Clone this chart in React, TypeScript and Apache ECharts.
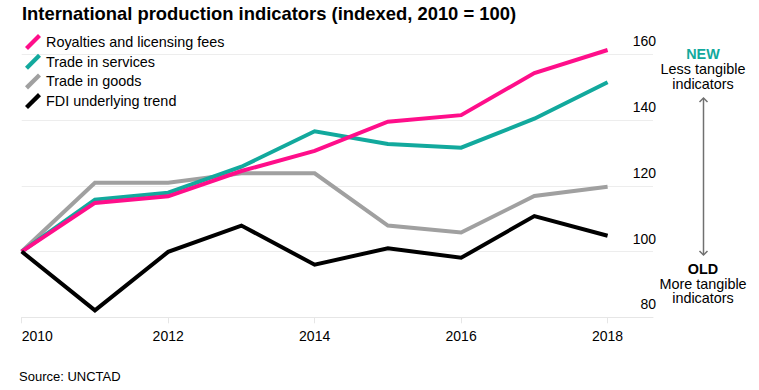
import React, { useEffect, useRef } from "react";
import * as echarts from "echarts";

const years = [2010, 2011, 2012, 2013, 2014, 2015, 2016, 2017, 2018];
const royalties = [100, 114.8, 116.8, 124.5, 130.6, 139.5, 141.5, 154.3, 161.3];
const services = [100, 115.8, 117.9, 125.8, 136.6, 132.7, 131.6, 140.4, 151.5];
const goods = [100, 120.9, 120.9, 123.8, 123.8, 107.9, 105.8, 116.9, 119.7];
const fdi = [100, 82.1, 99.9, 107.9, 96.0, 101.0, 98.1, 110.8, 104.8];
const xTickLabels = [2010, 2012, 2014, 2016, 2018];
const yTicks = { min: 80, max: 160, interval: 20 };

const FONT = "'Liberation Sans', Arial, Helvetica, sans-serif";
const ICON = "path://M0.6,12.6 L12.6,0.6 L15.4,3.4 L3.4,15.4 Z";

const seriesDefs = [
  { name: "Royalties and licensing fees", data: royalties, color: "#FF0E8A", z: 4 },
  { name: "Trade in services", data: services, color: "#12A99D", z: 3 },
  { name: "Trade in goods", data: goods, color: "#A0A0A0", z: 2 },
  { name: "FDI underlying trend", data: fdi, color: "#000000", z: 5 },
];

export default function App() {
  const ref = useRef<HTMLDivElement>(null);
  useEffect(() => {
    if (!ref.current) return;
    const chart = echarts.init(ref.current, null, { renderer: "svg" });
    const textBase = { fontFamily: FONT, fill: "#000", fontSize: 14.4 };
    chart.setOption({
      animation: false,
      backgroundColor: "#fff",
      grid: {
        left: 21.7,
        right: 106,
        top: 54.3,
        bottom: 72.7,
        containLabel: false,
        outerBoundsMode: "none",
      },
      legend: {
        orient: "vertical",
        left: 25,
        top: 34,
        padding: 0,
        itemWidth: 16,
        itemHeight: 16,
        itemGap: 3.7,
        icon: ICON,
        textStyle: { fontFamily: FONT, fontSize: 14.4, color: "#000" },
        selectedMode: false,
        data: seriesDefs.map((s) => s.name),
      },
      xAxis: {
        type: "value",
        min: 2010,
        max: 2018.62,
        interval: 2,
        splitLine: { show: false },
        axisLine: { show: true, lineStyle: { color: "#e6e6e6", width: 1 } },
        axisTick: { show: true, length: 6, lineStyle: { color: "#e6e6e6" }, customValues: xTickLabels },
        axisLabel: {
          customValues: xTickLabels,
          color: "#000",
          fontFamily: FONT,
          fontSize: 14,
          margin: 12,
          alignMinLabel: "left",
          formatter: (v: number) => String(v),
        },
      },
      yAxis: {
        type: "value",
        position: "right",
        min: yTicks.min,
        max: yTicks.max,
        interval: yTicks.interval,
        axisLine: { show: false },
        axisTick: { show: false },
        splitLine: { show: true, lineStyle: { color: "#ededed", width: 1 } },
        axisLabel: {
          inside: false,
          margin: 3,
          align: "right",
          verticalAlign: "bottom",
          padding: [0, 0, 6, 0],
          color: "#000",
          fontFamily: FONT,
          fontSize: 14,
        },
      },
      series: seriesDefs.map((s) => ({
        name: s.name,
        type: "line",
        data: years.map((y, i) => [y, s.data[i]]),
        showSymbol: false,
        symbol: "none",
        clip: false,
        z: s.z,
        color: s.color,
        itemStyle: { color: s.color },
        lineStyle: { color: s.color, width: 4, join: "miter", cap: "butt" },
      })),
      graphic: [
        {
          type: "text",
          left: 22,
          top: 4,
          style: {
            ...textBase,
            text: "International production indicators (indexed, 2010 = 100)",
            fontSize: 18.4,
            fontWeight: "bold",
          },
        },
        { type: "text", x: 703, y: 53.5, style: { ...textBase, text: "NEW", fontWeight: "bold", fill: "#12A99D", align: "center", verticalAlign: "middle" } },
        { type: "text", x: 703, y: 68.5, style: { ...textBase, text: "Less tangible", align: "center", verticalAlign: "middle" } },
        { type: "text", x: 703, y: 83.5, style: { ...textBase, text: "indicators", align: "center", verticalAlign: "middle" } },
        { type: "text", x: 703, y: 268.5, style: { ...textBase, text: "OLD", fontWeight: "bold", align: "center", verticalAlign: "middle" } },
        { type: "text", x: 703, y: 283.5, style: { ...textBase, text: "More tangible", align: "center", verticalAlign: "middle" } },
        { type: "text", x: 703, y: 298, style: { ...textBase, text: "indicators", align: "center", verticalAlign: "middle" } },
        { type: "line", shape: { x1: 703.5, y1: 98, x2: 703.5, y2: 255 }, style: { stroke: "#707070", lineWidth: 1.5 } },
        { type: "polyline", shape: { points: [[699.5, 102], [703.5, 98], [707.5, 102]] }, style: { stroke: "#707070", lineWidth: 1.5, fill: null } },
        { type: "polyline", shape: { points: [[699.5, 251], [703.5, 255], [707.5, 251]] }, style: { stroke: "#707070", lineWidth: 1.5, fill: null } },
        { type: "text", x: 19, y: 376, style: { ...textBase, text: "Source: UNCTAD", fontSize: 13, verticalAlign: "middle" } },
      ],
    });
    return () => chart.dispose();
  }, []);
  return (
    <div
      ref={ref}
      style={{ position: "fixed", left: 0, top: 0, width: 759, height: 390 }}
    />
  );
}
